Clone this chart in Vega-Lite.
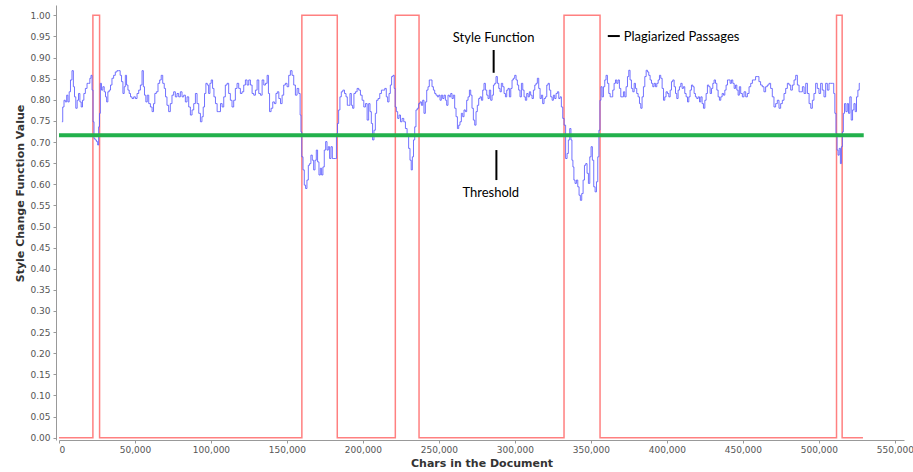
{
  "$schema": "https://vega.github.io/schema/vega-lite/v6.json",
  "width": 845,
  "height": 435,
  "autosize": {"type": "none"},
  "padding": {"left": 59, "top": 5, "right": 9, "bottom": 32},
  "background": "white",
  "config": {"view": {"stroke": null}, "axisY": {"tickCount": 21, "labelOverlap": false}},
  "datasets": {
    "passages": [
      {"c": 0, "v": 0, "o": 0}, {"c": 22300, "v": 0, "o": 1}, {"c": 22300, "v": 1, "o": 2}, {"c": 26700, "v": 1, "o": 3}, {"c": 26700, "v": 0, "o": 4},
      {"c": 159800, "v": 0, "o": 5}, {"c": 159800, "v": 1, "o": 6}, {"c": 183100, "v": 1, "o": 7}, {"c": 183100, "v": 0, "o": 8},
      {"c": 221300, "v": 0, "o": 9}, {"c": 221300, "v": 1, "o": 10}, {"c": 236900, "v": 1, "o": 11}, {"c": 236900, "v": 0, "o": 12},
      {"c": 332300, "v": 0, "o": 13}, {"c": 332300, "v": 1, "o": 14}, {"c": 356000, "v": 1, "o": 15}, {"c": 356000, "v": 0, "o": 16},
      {"c": 511600, "v": 0, "o": 17}, {"c": 511600, "v": 1, "o": 18}, {"c": 515300, "v": 1, "o": 19}, {"c": 515300, "v": 0, "o": 20},
      {"c": 529000, "v": 0, "o": 21}
    ],
    "style": [
      {"c":1900,"v":0.748},{"c":3000,"v":0.783},{"c":3600,"v":0.799},{"c":4700,"v":0.795},{"c":5400,"v":0.811},{"c":6300,"v":0.795},{"c":7100,"v":0.819},{"c":8000,"v":0.847},{"c":9100,"v":0.869},{"c":9800,"v":0.831},
      {"c":10600,"v":0.807},{"c":11500,"v":0.780},{"c":12400,"v":0.799},{"c":13300,"v":0.815},{"c":14200,"v":0.795},{"c":15000,"v":0.783},{"c":15900,"v":0.799},{"c":16800,"v":0.815},{"c":17900,"v":0.827},{"c":19000,"v":0.839},
      {"c":19900,"v":0.839},{"c":20700,"v":0.851},{"c":21400,"v":0.858},{"c":22100,"v":0.823},{"c":22700,"v":0.748},{"c":23400,"v":0.708},{"c":24200,"v":0.705},{"c":25100,"v":0.701},{"c":25800,"v":0.693},{"c":26400,"v":0.736},
      {"c":26900,"v":0.768},{"c":27500,"v":0.839},{"c":28400,"v":0.823},{"c":29300,"v":0.831},{"c":30200,"v":0.819},{"c":31000,"v":0.807},{"c":31700,"v":0.795},{"c":32600,"v":0.819},{"c":33500,"v":0.823},{"c":34300,"v":0.835},
      {"c":35400,"v":0.851},{"c":36500,"v":0.858},{"c":37600,"v":0.866},{"c":38700,"v":0.869},{"c":39800,"v":0.869},{"c":40700,"v":0.858},{"c":41600,"v":0.843},{"c":42500,"v":0.815},{"c":43300,"v":0.831},{"c":44000,"v":0.858},
      {"c":44900,"v":0.835},{"c":45800,"v":0.823},{"c":46600,"v":0.815},{"c":47500,"v":0.807},{"c":48600,"v":0.803},{"c":49700,"v":0.807},{"c":50800,"v":0.803},{"c":51900,"v":0.815},{"c":53000,"v":0.823},{"c":54100,"v":0.835},
      {"c":55200,"v":0.869},{"c":55800,"v":0.831},{"c":56700,"v":0.811},{"c":57600,"v":0.795},{"c":58500,"v":0.811},{"c":59600,"v":0.791},{"c":60700,"v":0.783},{"c":61800,"v":0.772},{"c":62600,"v":0.791},{"c":63500,"v":0.815},
      {"c":64600,"v":0.819},{"c":65700,"v":0.839},{"c":66800,"v":0.847},{"c":67700,"v":0.858},{"c":68800,"v":0.839},{"c":69700,"v":0.827},{"c":70500,"v":0.807},{"c":71600,"v":0.787},{"c":72700,"v":0.772},{"c":73800,"v":0.791},
      {"c":74900,"v":0.811},{"c":76000,"v":0.819},{"c":77100,"v":0.807},{"c":78200,"v":0.815},{"c":79300,"v":0.807},{"c":80400,"v":0.819},{"c":81500,"v":0.807},{"c":82600,"v":0.811},{"c":83700,"v":0.795},{"c":84800,"v":0.807},
      {"c":85900,"v":0.783},{"c":87000,"v":0.764},{"c":88100,"v":0.776},{"c":89200,"v":0.791},{"c":90300,"v":0.815},{"c":91400,"v":0.791},{"c":92500,"v":0.768},{"c":93600,"v":0.748},{"c":94500,"v":0.760},{"c":95300,"v":0.783},
      {"c":96200,"v":0.815},{"c":97100,"v":0.839},{"c":98000,"v":0.835},{"c":98900,"v":0.815},{"c":99700,"v":0.839},{"c":100600,"v":0.847},{"c":101500,"v":0.827},{"c":102400,"v":0.807},{"c":103500,"v":0.791},{"c":104600,"v":0.772},
      {"c":105700,"v":0.772},{"c":106800,"v":0.791},{"c":107900,"v":0.783},{"c":108900,"v":0.807},{"c":110000,"v":0.835},{"c":111100,"v":0.839},{"c":112200,"v":0.815},
      {"c":113300,"v":0.799},{"c":114400,"v":0.783},{"c":115500,"v":0.799},{"c":116600,"v":0.827},{"c":117700,"v":0.839},{"c":118800,"v":0.827},{"c":119900,"v":0.815},{"c":121000,"v":0.819},{"c":122100,"v":0.835},{"c":123200,"v":0.847},
      {"c":124300,"v":0.835},{"c":125400,"v":0.847},{"c":126500,"v":0.835},{"c":127600,"v":0.815},{"c":128700,"v":0.811},{"c":129800,"v":0.823},{"c":130900,"v":0.847},{"c":132000,"v":0.815},{"c":133100,"v":0.811},{"c":134200,"v":0.847},
      {"c":135300,"v":0.835},{"c":136400,"v":0.839},{"c":137500,"v":0.858},{"c":138100,"v":0.815},{"c":139000,"v":0.772},{"c":140100,"v":0.780},{"c":141200,"v":0.795},{"c":142300,"v":0.791},{"c":143200,"v":0.815},{"c":144100,"v":0.819},
      {"c":145200,"v":0.803},{"c":146300,"v":0.791},{"c":147300,"v":0.811},{"c":148400,"v":0.835},{"c":149500,"v":0.839},{"c":150600,"v":0.831},{"c":151700,"v":0.858},{"c":152800,"v":0.869},{"c":153900,"v":0.858},{"c":155000,"v":0.835},
      {"c":156100,"v":0.811},{"c":157200,"v":0.827},{"c":158300,"v":0.815},{"c":159000,"v":0.764},{"c":159400,"v":0.724},{"c":160100,"v":0.665},{"c":161000,"v":0.634},{"c":161800,"v":0.598},{"c":162700,"v":0.590},{"c":163600,"v":0.610},
      {"c":164500,"v":0.645},{"c":165300,"v":0.649},{"c":166200,"v":0.669},{"c":167100,"v":0.657},{"c":168000,"v":0.634},{"c":168900,"v":0.657},{"c":169700,"v":0.681},{"c":170600,"v":0.653},{"c":171500,"v":0.622},{"c":172400,"v":0.638},
      {"c":173200,"v":0.622},{"c":174100,"v":0.641},{"c":175000,"v":0.681},{"c":175900,"v":0.701},{"c":176800,"v":0.681},{"c":177600,"v":0.689},{"c":178500,"v":0.661},{"c":179400,"v":0.689},{"c":180300,"v":0.661},{"c":181400,"v":0.661},
      {"c":182200,"v":0.661},{"c":182900,"v":0.720},{"c":183600,"v":0.744},{"c":184400,"v":0.776},{"c":185300,"v":0.807},{"c":186200,"v":0.819},{"c":187300,"v":0.823},{"c":188400,"v":0.815},{"c":189300,"v":0.807},{"c":190100,"v":0.787},
      {"c":191000,"v":0.787},{"c":191900,"v":0.815},{"c":192800,"v":0.787},{"c":193600,"v":0.780},{"c":194500,"v":0.815},{"c":195600,"v":0.819},{"c":196700,"v":0.827},{"c":197800,"v":0.823},{"c":198900,"v":0.811},{"c":200000,"v":0.799},
      {"c":201100,"v":0.783},{"c":202200,"v":0.791},{"c":203300,"v":0.752},{"c":204200,"v":0.791},{"c":205100,"v":0.772},{"c":205900,"v":0.744},{"c":206800,"v":0.705},{"c":207700,"v":0.728},{"c":208600,"v":0.768},{"c":209400,"v":0.799},
      {"c":210500,"v":0.803},{"c":211600,"v":0.815},{"c":212700,"v":0.823},{"c":213800,"v":0.823},{"c":214900,"v":0.827},{"c":215800,"v":0.807},{"c":216700,"v":0.795},{"c":217600,"v":0.815},{"c":218400,"v":0.835},{"c":219300,"v":0.855},
      {"c":220200,"v":0.858},{"c":220900,"v":0.827},{"c":221500,"v":0.783},{"c":222400,"v":0.772},{"c":223300,"v":0.756},{"c":224200,"v":0.764},
      {"c":225200,"v":0.748},{"c":226300,"v":0.756},{"c":227400,"v":0.748},{"c":228500,"v":0.732},{"c":229600,"v":0.716},{"c":230500,"v":0.685},{"c":231400,"v":0.657},{"c":232100,"v":0.634},{"c":232900,"v":0.665},{"c":233600,"v":0.705},
      {"c":234500,"v":0.736},{"c":235300,"v":0.776},{"c":236200,"v":0.780},{"c":237100,"v":0.791},{"c":238000,"v":0.795},{"c":238900,"v":0.787},{"c":239700,"v":0.799},{"c":240600,"v":0.768},{"c":241500,"v":0.795},{"c":242400,"v":0.823},
      {"c":243200,"v":0.831},{"c":244100,"v":0.847},{"c":245000,"v":0.847},{"c":245900,"v":0.831},{"c":246800,"v":0.823},{"c":247600,"v":0.815},{"c":248500,"v":0.811},{"c":249400,"v":0.807},{"c":250300,"v":0.811},{"c":251100,"v":0.799},
      {"c":252000,"v":0.811},{"c":252900,"v":0.803},{"c":253800,"v":0.811},{"c":254700,"v":0.799},{"c":255500,"v":0.787},{"c":256400,"v":0.811},{"c":257300,"v":0.807},{"c":258200,"v":0.815},{"c":259000,"v":0.803},{"c":259900,"v":0.811},
      {"c":260800,"v":0.780},{"c":261700,"v":0.760},{"c":262600,"v":0.732},{"c":263400,"v":0.740},{"c":264300,"v":0.748},{"c":265200,"v":0.768},{"c":266100,"v":0.760},{"c":266900,"v":0.776},{"c":267800,"v":0.772},{"c":268700,"v":0.799},
      {"c":269600,"v":0.807},{"c":270500,"v":0.823},{"c":271300,"v":0.811},{"c":272200,"v":0.780},{"c":273100,"v":0.752},{"c":274000,"v":0.740},{"c":274800,"v":0.772},{"c":275700,"v":0.787},{"c":276600,"v":0.803},{"c":277500,"v":0.807},
      {"c":278400,"v":0.799},{"c":279200,"v":0.823},{"c":280100,"v":0.839},{"c":281000,"v":0.823},{"c":281900,"v":0.811},{"c":282700,"v":0.803},{"c":283600,"v":0.823},{"c":284500,"v":0.799},{"c":285400,"v":0.811},{"c":286300,"v":0.835},
      {"c":287100,"v":0.839},{"c":288000,"v":0.855},{"c":288900,"v":0.839},{"c":289800,"v":0.827},{"c":290600,"v":0.819},{"c":291500,"v":0.839},{"c":292400,"v":0.831},{"c":293300,"v":0.815},{"c":294200,"v":0.807},{"c":295000,"v":0.823},
      {"c":295900,"v":0.827},{"c":296800,"v":0.807},{"c":297700,"v":0.827},{"c":298500,"v":0.847},{"c":299400,"v":0.851},{"c":300300,"v":0.858},{"c":301200,"v":0.847},{"c":302000,"v":0.835},{"c":302900,"v":0.823},{"c":303800,"v":0.807},
      {"c":304700,"v":0.839},{"c":305600,"v":0.823},{"c":306400,"v":0.807},{"c":307300,"v":0.799},{"c":308200,"v":0.815},{"c":309100,"v":0.807},{"c":309900,"v":0.819},{"c":310800,"v":0.811},{"c":311700,"v":0.803},{"c":312600,"v":0.823},
      {"c":313500,"v":0.835},{"c":314300,"v":0.839},{"c":315200,"v":0.851},{"c":316100,"v":0.827},{"c":317000,"v":0.803},{"c":317800,"v":0.811},{"c":318700,"v":0.791},{"c":319600,"v":0.803},{"c":320500,"v":0.807},{"c":321400,"v":0.835},
      {"c":322200,"v":0.839},{"c":323100,"v":0.823},{"c":324000,"v":0.807},{"c":324900,"v":0.799},{"c":325700,"v":0.811},{"c":326600,"v":0.803},{"c":327500,"v":0.815},{"c":328400,"v":0.819},{"c":329300,"v":0.803},{"c":330100,"v":0.807},
      {"c":331000,"v":0.783},{"c":331900,"v":0.756},
      {"c":332800,"v":0.740},{"c":333900,"v":0.661},{"c":334700,"v":0.673},{"c":335600,"v":0.705},{"c":336500,"v":0.732},{"c":337200,"v":0.705},{"c":337800,"v":0.657},{"c":338500,"v":0.641},{"c":339100,"v":0.610},{"c":340000,"v":0.602},
      {"c":340900,"v":0.610},{"c":341800,"v":0.594},{"c":342600,"v":0.574},{"c":343500,"v":0.562},{"c":344400,"v":0.578},{"c":345300,"v":0.610},{"c":346200,"v":0.645},{"c":347000,"v":0.649},{"c":347900,"v":0.626},{"c":348800,"v":0.602},
      {"c":349700,"v":0.665},{"c":350500,"v":0.689},{"c":351400,"v":0.657},{"c":352300,"v":0.594},{"c":353200,"v":0.582},{"c":354100,"v":0.606},{"c":354900,"v":0.665},{"c":355600,"v":0.728},{"c":356300,"v":0.799},{"c":356900,"v":0.831},
      {"c":357800,"v":0.807},{"c":358700,"v":0.831},{"c":359500,"v":0.847},{"c":360400,"v":0.858},{"c":361300,"v":0.839},{"c":362200,"v":0.815},{"c":363100,"v":0.807},{"c":363900,"v":0.807},{"c":364800,"v":0.823},{"c":365700,"v":0.839},
      {"c":366600,"v":0.847},{"c":367400,"v":0.839},{"c":368300,"v":0.847},{"c":369200,"v":0.827},{"c":370100,"v":0.807},{"c":371000,"v":0.807},{"c":371800,"v":0.819},{"c":372700,"v":0.807},{"c":373600,"v":0.831},{"c":374500,"v":0.855},
      {"c":375300,"v":0.870},{"c":376200,"v":0.847},{"c":377100,"v":0.827},{"c":378000,"v":0.819},{"c":378900,"v":0.839},{"c":379700,"v":0.827},{"c":380600,"v":0.815},{"c":381500,"v":0.807},{"c":382400,"v":0.791},{"c":383200,"v":0.780},
      {"c":384100,"v":0.807},{"c":385000,"v":0.831},{"c":385900,"v":0.855},{"c":386800,"v":0.870},{"c":387600,"v":0.866},{"c":388500,"v":0.858},{"c":389400,"v":0.847},{"c":390300,"v":0.839},{"c":391100,"v":0.831},{"c":392000,"v":0.839},
      {"c":392900,"v":0.831},{"c":393800,"v":0.839},{"c":394700,"v":0.847},{"c":395500,"v":0.858},{"c":396400,"v":0.851},{"c":397300,"v":0.827},{"c":398200,"v":0.799},{"c":399000,"v":0.807},{"c":399900,"v":0.819},{"c":400800,"v":0.815},
      {"c":401700,"v":0.807},{"c":402600,"v":0.823},{"c":403400,"v":0.843},{"c":404300,"v":0.847},{"c":405200,"v":0.831},{"c":406100,"v":0.815},{"c":406900,"v":0.803},{"c":407800,"v":0.823},{"c":408700,"v":0.831},{"c":409600,"v":0.839},
      {"c":410400,"v":0.827},{"c":411300,"v":0.831},{"c":412200,"v":0.815},{"c":413100,"v":0.807},{"c":414000,"v":0.795},{"c":414800,"v":0.807},{"c":415700,"v":0.823},{"c":416600,"v":0.835},{"c":417500,"v":0.831},{"c":418300,"v":0.815},
      {"c":419200,"v":0.807},{"c":420100,"v":0.803},{"c":421000,"v":0.807},{"c":421900,"v":0.795},{"c":422700,"v":0.807},{"c":423600,"v":0.791},{"c":424500,"v":0.780},{"c":425400,"v":0.799},{"c":426200,"v":0.815},{"c":427100,"v":0.835},
      {"c":428000,"v":0.831},{"c":428900,"v":0.815},{"c":429800,"v":0.827},{"c":430600,"v":0.839},{"c":431500,"v":0.847},{"c":432400,"v":0.839},{"c":433300,"v":0.823},{"c":434100,"v":0.807},{"c":435000,"v":0.799},{"c":435900,"v":0.807},
      {"c":436800,"v":0.815},{"c":437700,"v":0.811},{"c":438500,"v":0.823},{"c":439400,"v":0.835},{"c":440300,"v":0.847},{"c":441200,"v":0.847},{"c":442000,"v":0.839},{"c":442900,"v":0.847},{"c":443800,"v":0.839},{"c":444700,"v":0.827},
      {"c":445600,"v":0.835},{"c":446400,"v":0.823},{"c":447300,"v":0.811},
      {"c":448000,"v":0.831},{"c":449100,"v":0.815},{"c":450200,"v":0.807},{"c":451300,"v":0.819},{"c":452400,"v":0.807},{"c":453500,"v":0.815},{"c":454600,"v":0.831},{"c":455700,"v":0.839},{"c":456800,"v":0.847},{"c":457800,"v":0.847},
      {"c":458900,"v":0.855},{"c":460000,"v":0.855},{"c":461100,"v":0.843},{"c":462200,"v":0.835},{"c":463300,"v":0.831},{"c":464400,"v":0.819},{"c":465500,"v":0.831},{"c":466600,"v":0.835},{"c":467700,"v":0.839},{"c":468800,"v":0.827},
      {"c":469900,"v":0.807},{"c":471000,"v":0.783},{"c":472100,"v":0.791},{"c":473200,"v":0.799},{"c":474300,"v":0.780},{"c":475400,"v":0.791},{"c":476500,"v":0.799},{"c":477600,"v":0.815},{"c":478700,"v":0.827},{"c":479800,"v":0.839},
      {"c":480900,"v":0.835},{"c":482000,"v":0.823},{"c":483100,"v":0.835},{"c":484200,"v":0.847},{"c":485300,"v":0.858},{"c":486400,"v":0.835},{"c":487500,"v":0.819},{"c":488600,"v":0.819},{"c":489700,"v":0.831},{"c":490800,"v":0.815},
      {"c":491900,"v":0.839},{"c":493000,"v":0.815},{"c":494100,"v":0.791},{"c":495200,"v":0.780},{"c":496200,"v":0.799},{"c":497300,"v":0.815},{"c":498400,"v":0.839},{"c":499500,"v":0.827},{"c":500600,"v":0.815},{"c":501700,"v":0.839},
      {"c":502800,"v":0.823},{"c":503900,"v":0.807},{"c":505000,"v":0.839},{"c":506100,"v":0.823},{"c":507200,"v":0.839},{"c":508300,"v":0.839},{"c":509400,"v":0.839},{"c":510100,"v":0.815},{"c":510900,"v":0.768},{"c":511600,"v":0.720},
      {"c":512300,"v":0.681},{"c":512900,"v":0.669},{"c":513800,"v":0.685},{"c":514500,"v":0.649},{"c":515100,"v":0.689},{"c":515800,"v":0.724},{"c":516400,"v":0.768},{"c":517300,"v":0.791},{"c":518200,"v":0.772},{"c":519100,"v":0.791},
      {"c":519900,"v":0.768},{"c":520800,"v":0.807},{"c":521700,"v":0.752},{"c":522600,"v":0.776},{"c":523500,"v":0.791},{"c":524300,"v":0.772},{"c":525200,"v":0.807},{"c":526100,"v":0.823},{"c":527000,"v":0.839}
    ],
    "threshold": [{"c0": 0, "c1": 529500, "t": 0.716}],
    "pointers": [
      {"c0": 286000, "c1": 286000, "v0": 0.918, "v1": 0.864},
      {"c0": 287800, "c1": 287800, "v0": 0.681, "v1": 0.610},
      {"c0": 361100, "c1": 369000, "v0": 0.951, "v1": 0.951}
    ],
    "centerLabels": [
      {"c": 286000, "v": 0.946, "label": "Style Function"},
      {"c": 284100, "v": 0.580, "label": "Threshold"}
    ],
    "leftLabels": [
      {"c": 371600, "v": 0.949, "label": "Plagiarized Passages"}
    ]
  },
  "layer": [
    {
      "data": {"name": "passages"},
      "mark": {"type": "line", "stroke": "#ff8080", "strokeWidth": 1.5},
      "encoding": {
        "x": {
          "field": "c", "type": "quantitative",
          "scale": {"domain": [0, 556000], "nice": false, "zero": false},
          "axis": {
            "values": [0, 50000, 100000, 150000, 200000, 250000, 300000, 350000, 400000, 450000, 500000, 550000],
            "format": ",.0f", "grid": false, "tickSize": 3, "labelPadding": 2, "labelOverlap": false,
            "labelFont": "DejaVu Sans", "labelFontSize": 9, "labelColor": "#555555",
            "domainColor": "#999999", "tickColor": "#999999",
            "title": "Chars in the Document", "titleFont": "DejaVu Sans", "titleFontSize": 11,
            "titleFontWeight": "bold", "titleColor": "#333333", "titlePadding": 3
          }
        },
        "y": {
          "field": "v", "type": "quantitative",
          "scale": {"domain": [-0.0055, 1.0245], "nice": false, "zero": false},
          "axis": {
            "values": [0, 0.05, 0.1, 0.15, 0.2, 0.25, 0.3, 0.35, 0.4, 0.45, 0.5, 0.55, 0.6, 0.65, 0.7, 0.75, 0.8, 0.85, 0.9, 0.95, 1.0],
            "tickCount": 21,
            "format": ".2f", "grid": false, "offset": 3, "tickSize": 3, "labelPadding": 3, "labelOverlap": false,
            "labelFont": "DejaVu Sans", "labelFontSize": 9, "labelColor": "#555555",
            "domainColor": "#999999", "tickColor": "#999999",
            "title": "Style Change Function Value", "titleFont": "DejaVu Sans", "titleFontSize": 11,
            "titleFontWeight": "bold", "titleColor": "#333333", "titleY": 188
          }
        },
        "order": {"field": "o", "type": "quantitative"}
      }
    },
    {
      "data": {"name": "style"},
      "mark": {"type": "line", "stroke": "#5a5aff", "strokeWidth": 1, "strokeOpacity": 0.85, "interpolate": "step"},
      "encoding": {
        "x": {"field": "c", "type": "quantitative"},
        "y": {"field": "v", "type": "quantitative", "axis": {"values": [0, 0.05, 0.1, 0.15, 0.2, 0.25, 0.3, 0.35, 0.4, 0.45, 0.5, 0.55, 0.6, 0.65, 0.7, 0.75, 0.8, 0.85, 0.9, 0.95, 1.0]}}
      }
    },
    {
      "data": {"name": "threshold"},
      "mark": {"type": "rule", "stroke": "#22b14c", "strokeWidth": 4},
      "encoding": {
        "x": {"field": "c0", "type": "quantitative"},
        "x2": {"field": "c1"},
        "y": {"field": "t", "type": "quantitative", "axis": {"values": [0, 0.05, 0.1, 0.15, 0.2, 0.25, 0.3, 0.35, 0.4, 0.45, 0.5, 0.55, 0.6, 0.65, 0.7, 0.75, 0.8, 0.85, 0.9, 0.95, 1.0]}}
      }
    },
    {
      "mark": {"type": "rule", "stroke": "#c49090", "strokeWidth": 1},
      "encoding": {"x": {"datum": 0, "type": "quantitative"}}
    },
    {
      "mark": {"type": "rule", "stroke": "#999999", "strokeWidth": 1},
      "encoding": {"x": {"datum": 556000, "type": "quantitative"}}
    },
    {
      "data": {"name": "pointers"},
      "mark": {"type": "rule", "stroke": "#000000", "strokeWidth": 2},
      "encoding": {
        "x": {"field": "c0", "type": "quantitative"},
        "x2": {"field": "c1"},
        "y": {"field": "v0", "type": "quantitative", "axis": {"values": [0, 0.05, 0.1, 0.15, 0.2, 0.25, 0.3, 0.35, 0.4, 0.45, 0.5, 0.55, 0.6, 0.65, 0.7, 0.75, 0.8, 0.85, 0.9, 0.95, 1.0]}},
        "y2": {"field": "v1"}
      }
    },
    {
      "data": {"name": "centerLabels"},
      "mark": {"type": "text", "font": "Lato", "fontSize": 13, "color": "#000000", "baseline": "middle", "align": "center"},
      "encoding": {
        "x": {"field": "c", "type": "quantitative"},
        "y": {"field": "v", "type": "quantitative", "axis": {"values": [0, 0.05, 0.1, 0.15, 0.2, 0.25, 0.3, 0.35, 0.4, 0.45, 0.5, 0.55, 0.6, 0.65, 0.7, 0.75, 0.8, 0.85, 0.9, 0.95, 1.0]}},
        "text": {"field": "label"}
      }
    },
    {
      "data": {"name": "leftLabels"},
      "mark": {"type": "text", "font": "Lato", "fontSize": 13, "color": "#000000", "baseline": "middle", "align": "left"},
      "encoding": {
        "x": {"field": "c", "type": "quantitative"},
        "y": {"field": "v", "type": "quantitative", "axis": {"values": [0, 0.05, 0.1, 0.15, 0.2, 0.25, 0.3, 0.35, 0.4, 0.45, 0.5, 0.55, 0.6, 0.65, 0.7, 0.75, 0.8, 0.85, 0.9, 0.95, 1.0]}},
        "text": {"field": "label"}
      }
    }
  ]
}
